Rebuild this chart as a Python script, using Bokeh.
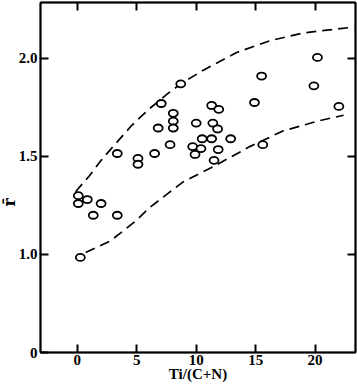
from bokeh.plotting import figure
from bokeh.models import LinearAxis, FixedTicker, Title, ColumnDataSource
from bokeh.embed import file_html
from bokeh.resources import INLINE

# Data
ti_ratio = [0.25, 0.08, 0.08, 0.84, 2.0, 1.34, 3.36, 3.36, 5.1, 5.1, 6.5, 7.06, 6.8,
            7.8, 8.07, 8.07, 8.07, 8.7, 10.0, 11.3, 11.9, 11.4, 11.8, 9.7, 9.9, 10.5,
            10.4, 11.3, 11.85, 11.5, 12.9, 14.9, 15.5, 15.6, 19.9, 20.2, 22.0]
r_bar = [0.985, 1.30, 1.26, 1.28, 1.26, 1.20, 1.20, 1.515, 1.49, 1.46, 1.515, 1.77, 1.645,
         1.56, 1.72, 1.68, 1.645, 1.87, 1.67, 1.76, 1.74, 1.67, 1.64, 1.55, 1.51, 1.59,
         1.54, 1.59, 1.535, 1.48, 1.59, 1.775, 1.91, 1.56, 1.86, 2.005, 1.755]

upper_x = [-0.15, 1.0, 2.0, 3.0, 4.6, 6.0, 7.6, 8.7, 10.6, 13.4, 16.2, 19.0, 23.3]
upper_y = [1.32, 1.40, 1.48, 1.55, 1.66, 1.74, 1.82, 1.87, 1.94, 2.03, 2.09, 2.13, 2.16]
lower_x = [0.7, 2.8, 4.9, 6.1, 7.6, 8.9, 11.8, 14.5, 17.3, 20.2, 22.4]
lower_y = [1.01, 1.07, 1.17, 1.24, 1.31, 1.37, 1.46, 1.55, 1.63, 1.68, 1.71]

x_ticks = [0, 5, 10, 15, 20]
y_ticks = [0.5, 1.0, 1.5, 2.0]
y_tick_labels = {0.5: "0", 1.0: "1.0", 1.5: "1.5", 2.0: "2.0"}
x_title = "Ti/(C+N)"
y_title = "r\u0304"

FONT = "Liberation Serif"

p = figure(width=357, height=389, x_range=(-3.1, 23.4), y_range=(0.5, 2.285),
           output_backend="svg", toolbar_location=None,
           min_border_left=40, min_border_right=2, min_border_top=2, min_border_bottom=37,
           x_axis_location="below", y_axis_location="left")
p.grid.visible = False
p.outline_line_color = "black"
p.outline_line_width = 1.5
p.background_fill_color = "white"
p.border_fill_color = "white"

def style_axis(ax, ticks):
    ax.ticker = FixedTicker(ticks=ticks)
    ax.minor_tick_line_color = None
    ax.major_tick_in = 8
    ax.major_tick_out = 0
    ax.major_tick_line_width = 2
    ax.major_tick_line_color = "black"
    ax.axis_line_width = 2
    ax.axis_line_color = "black"
    ax.major_label_text_font = FONT
    ax.major_label_text_font_style = "bold"
    ax.major_label_text_font_size = "15px"
    ax.major_label_text_color = "black"

xa = p.xaxis[0]
style_axis(xa, x_ticks)
xa.major_label_standoff = 2
xa.axis_label = x_title
xa.axis_label_text_font = FONT
xa.axis_label_text_font_style = "bold"
xa.axis_label_text_font_size = "15px"
xa.axis_label_text_color = "black"
xa.axis_label_standoff = -2

ya = p.yaxis[0]
style_axis(ya, y_ticks)
ya.major_label_overrides = y_tick_labels
ya.major_label_standoff = 3

top = LinearAxis()
style_axis(top, x_ticks)
top.major_label_overrides = {t: "" for t in x_ticks}
top.major_label_standoff = 0
p.add_layout(top, "above")

right_ticks = [1.0, 1.5, 2.0]
right = LinearAxis()
style_axis(right, right_ticks)
right.major_label_overrides = {t: "" for t in right_ticks}
right.major_label_standoff = 0
p.add_layout(right, "right")

p.add_layout(Title(text=y_title, align="left", offset=146, standoff=-6,
                   text_font="DejaVu Serif", text_font_style="bold",
                   text_font_size="16px", text_color="black"), "left")

p.line(upper_x, upper_y, line_color="black", line_width=1.7, line_dash="10 6")
p.line(lower_x, lower_y, line_color="black", line_width=1.7, line_dash="10 6")

src = ColumnDataSource(dict(x=ti_ratio, y=r_bar))
p.ellipse(x="x", y="y", width=9, height=7, width_units="screen", height_units="screen",
          source=src, fill_color="white", line_color="black", line_width=1.8)

open("out.html", "w").write(file_html(p, INLINE))
